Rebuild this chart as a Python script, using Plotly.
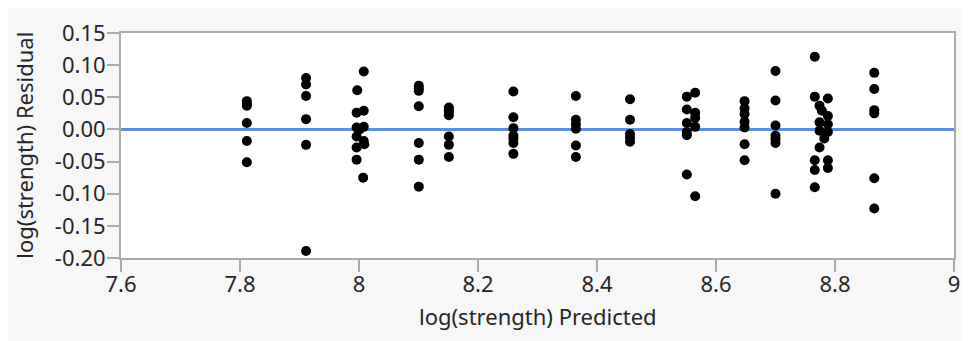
import plotly.graph_objects as go

# Predicted values (x) and residuals (y)
pred = (
    [7.8115] * 6
    + [7.911] * 6
    + [7.997, 8.008, 7.996, 8.008, 7.996, 8.008, 7.996, 8.008, 8.009, 7.996, 7.996, 8.007, 8.001]
    + [8.1005] * 7
    + [8.151] * 7
    + [8.2595] * 7
    + [8.3645] * 6
    + [8.4555] * 5
    + [8.565, 8.551, 8.551, 8.565, 8.565, 8.551, 8.565, 8.551, 8.551, 8.551, 8.565]
    + [8.648] * 7
    + [8.700] * 7
    + [8.766, 8.766, 8.788, 8.774, 8.778, 8.788, 8.774, 8.788, 8.774, 8.788,
       8.782, 8.774, 8.766, 8.788, 8.766, 8.788, 8.766]
    + [8.866] * 6
)
resid = (
    [0.044, 0.040, 0.037, 0.010, -0.018, -0.051]
    + [0.080, 0.070, 0.052, 0.016, -0.024, -0.189]
    + [0.061, 0.090, 0.026, 0.029, 0.003, 0.004, -0.011, -0.018, -0.023, -0.028, -0.047, -0.075, 0.000]
    + [0.068, 0.064, 0.060, 0.036, -0.021, -0.047, -0.089]
    + [0.034, 0.030, 0.027, 0.022, -0.011, -0.024, -0.043]
    + [0.059, 0.019, 0.002, -0.010, -0.014, -0.021, -0.038]
    + [0.052, 0.015, 0.008, 0.001, -0.025, -0.043]
    + [0.047, 0.015, -0.007, -0.013, -0.019]
    + [0.057, 0.051, 0.031, 0.026, 0.018, 0.010, 0.004, -0.004, -0.009, -0.070, -0.104]
    + [0.044, 0.033, 0.024, 0.012, 0.003, -0.023, -0.048]
    + [0.091, 0.045, 0.006, -0.010, -0.015, -0.021, -0.100]
    + [0.113, 0.051, 0.048, 0.037, 0.029, 0.021, 0.011, 0.008, -0.002, -0.004,
       -0.014, -0.028, -0.048, -0.048, -0.063, -0.060, -0.090]
    + [0.088, 0.063, 0.030, 0.025, -0.076, -0.123]
)

x_ticks = [7.6, 7.8, 8.0, 8.2, 8.4, 8.6, 8.8, 9.0]
x_tick_text = ["7.6", "7.8", "8", "8.2", "8.4", "8.6", "8.8", "9"]
y_ticks = [0.15, 0.10, 0.05, 0.00, -0.05, -0.10, -0.15, -0.20]
y_tick_text = ["0.15", "0.10", "0.05", "0.00", "-0.05", "-0.10", "-0.15", "-0.20"]

FONT = "Noto Sans"
TXT = "#262626"

fig = go.Figure()
fig.add_trace(go.Scatter(
    x=pred, y=resid, mode="markers",
    marker=dict(color="black", size=10, line=dict(width=0)),
    showlegend=False, cliponaxis=False,
))
fig.add_hline(y=0, line=dict(color="#5b8def", width=3), layer="below")

axis_common = dict(
    showgrid=False, zeroline=False,
    showline=True, linecolor="#ababab", linewidth=2, mirror=True,
    ticks="outside", ticklen=12, tickwidth=1.5, tickcolor="#ababab",
    tickfont=dict(family=FONT, size=22, color=TXT),
    ticklabeloverflow="allow",
)

# page body has an 8px margin; figure sized to fit the 969x341 window
W, H = 961, 333
ML, MR, MT, MB = 113, 13, 9, 83
plot_w = W - ML - MR
plot_h = H - MT - MB

fig.update_layout(
    width=W, height=H,
    margin=dict(l=ML, r=MR, t=MT, b=MB),
    paper_bgcolor="#f7f7f7", plot_bgcolor="white",
    xaxis=dict(range=[7.6, 9.0], tickvals=x_ticks, ticktext=x_tick_text,
               ticklabelstandoff=-6, **axis_common),
    yaxis=dict(range=[-0.20, 0.15], tickvals=y_ticks, ticktext=y_tick_text,
               ticklabelstandoff=-3, **axis_common),
    annotations=[
        dict(text="log(strength) Predicted", xref="paper", yref="paper",
             x=0.5, y=-(312 - (MT + plot_h)) / plot_h,
             xanchor="center", yanchor="middle", showarrow=False,
             font=dict(family=FONT, size=22, color=TXT)),
        dict(text="log(strength) Residual", xref="paper", yref="paper",
             x=(15 - ML) / plot_w, y=0.5, textangle=-90,
             xanchor="center", yanchor="middle", showarrow=False,
             font=dict(family=FONT, size=22, color=TXT)),
    ],
)

fig.write_html("out.html")
